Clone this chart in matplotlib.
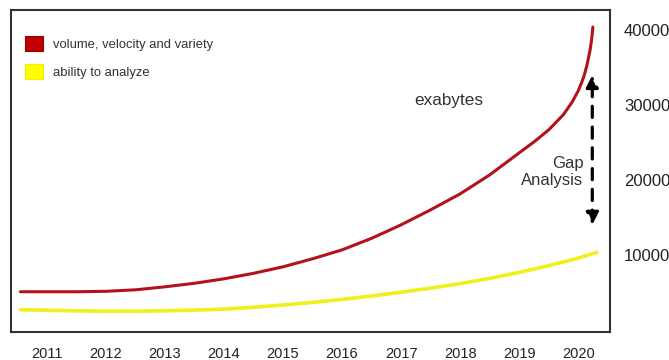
import numpy as np
import matplotlib.pyplot as plt
from matplotlib.patches import Patch

# values (exabytes)
years = [2011, 2012, 2013, 2014, 2015, 2016, 2017, 2018, 2019, 2020]
red_x = [2010.55, 2011, 2011.5, 2012, 2012.5, 2013, 2013.5, 2014, 2014.5,
         2015, 2015.5, 2016, 2016.5, 2017, 2017.5, 2018, 2018.5, 2019,
         2019.25, 2019.5, 2019.75, 2019.9, 2020, 2020.05, 2020.1, 2020.15,
         2020.2, 2020.23, 2020.25]
red_y = [5070, 5070, 5070, 5130, 5330, 5730, 6200, 6800, 7530,
         8400, 9470, 10660, 12200, 14000, 16000, 18130, 20660, 23600,
         25060, 26660, 28700, 30400, 31860, 32800, 33860, 35330,
         37200, 38800, 40400]
yel_x = [2010.55, 2011, 2011.5, 2012, 2012.5, 2013, 2013.5, 2014, 2014.5,
         2015, 2015.5, 2016, 2016.5, 2017, 2017.5, 2018, 2018.5, 2019,
         2019.5, 2020, 2020.32]
yel_y = [2670, 2600, 2520, 2470, 2470, 2530, 2620, 2750, 3000,
         3300, 3650, 4050, 4500, 5000, 5550, 6150, 6850, 7650,
         8550, 9550, 10330]
yticks = [10000, 20000, 30000, 40000]
gap_x = 2020.24
gap_top = 34000
gap_bottom = 14000

plt.rcParams['font.family'] = ['Liberation Sans', 'DejaVu Sans']

fig = plt.figure(figsize=(6.69, 3.6), dpi=100)
ax = fig.add_axes([0.0164, 0.0778, 0.8954, 0.8944])

ax.plot(red_x, red_y, color='#b3121a', lw=2.2, solid_capstyle='round',
        solid_joinstyle='round')
ax.plot(yel_x, yel_y, color='#f0f01c', lw=2.6, solid_capstyle='round',
        solid_joinstyle='round')

ax.set_xlim(2010.39, 2020.54)
ax.set_ylim(-300, 42670)

ax.set_xticks(years)
ax.set_xticklabels([str(y) for y in years], fontsize=10.5, color='#222222')
ax.yaxis.tick_right()
ax.set_yticks(yticks)
ax.set_yticklabels([str(v) for v in yticks], fontsize=12, color='#222222')
ax.tick_params(axis='both', length=0)
ax.tick_params(axis='x', pad=11)
ax.tick_params(axis='y', pad=10)

for sp in ax.spines.values():
    sp.set_color('#333333')
    sp.set_linewidth(1.5)

# gap arrow
ax.annotate('', xy=(gap_x, gap_top), xytext=(gap_x, gap_bottom),
            arrowprops=dict(arrowstyle='<|-|>', color='black', lw=2.3,
                            linestyle=(0, (3.5, 3)), mutation_scale=18,
                            shrinkA=0, shrinkB=0))
ax.text(2020.09, 21060, 'Gap\nAnalysis', ha='right', va='center',
        fontsize=12, color='#333333', linespacing=1.15)
ax.text(2017.8, 30570, 'exabytes', ha='center', va='center',
        fontsize=12.3, color='#333333')

handles = [Patch(facecolor='#c00000', edgecolor='#9a0000', lw=0.8),
           Patch(facecolor='#ffff00', edgecolor='#f0f000', lw=0.8)]
ax.legend(handles, ['volume, velocity and variety', 'ability to analyze'],
          loc='upper left', bbox_to_anchor=(0.003, 0.955), frameon=False,
          fontsize=9.4, handlelength=1.4, handleheight=1.4, labelspacing=0.95,
          handletextpad=0.75, labelcolor='#333333')

fig.savefig('out.png', dpi=100)
